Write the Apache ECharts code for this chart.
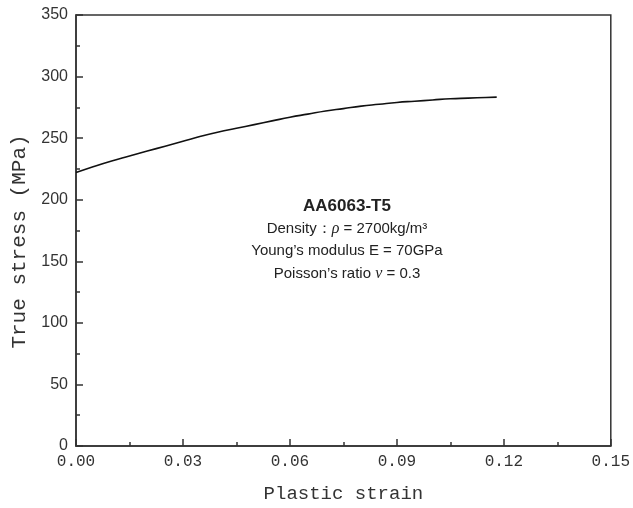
<!DOCTYPE html>
<html><head><meta charset="utf-8">
<script src="https://cdn.jsdelivr.net/npm/echarts@6/dist/echarts.min.js"></script>
<style>html,body{margin:0;padding:0;background:#fff}#c{width:633px;height:508px}</style>
</head><body><div id="c"></div>
<script>
const strain = [0, 0.005, 0.01, 0.015, 0.02, 0.025, 0.03, 0.035, 0.04, 0.045, 0.05, 0.055, 0.06, 0.065, 0.07, 0.075, 0.08, 0.085, 0.09, 0.095, 0.1, 0.105, 0.11, 0.115, 0.118];
const stress = [222, 227, 231.5, 235.5, 239.5, 243.5, 247.5, 251.5, 255, 258, 261, 264, 267, 269.5, 272, 274, 276, 277.5, 279, 280, 281, 282, 282.5, 283, 283.3];
const xTicks = [0, 0.03, 0.06, 0.09, 0.12, 0.15];
const yTicks = [0, 50, 100, 150, 200, 250, 300, 350];
const noteLines = ['AA6063-T5', 'Density\uFF1A{i|\u03C1} = 2700kg/m\u00B3', 'Young\u2019s modulus E = 70GPa', 'Poisson\u2019s ratio {i|\u03BD} = 0.3'];

const chart = echarts.init(document.getElementById('c'), null, {renderer: 'canvas'});
const axisColor = '#333';
const monoFont = '"Liberation Mono", "DejaVu Sans Mono", monospace';
chart.setOption({
  animation: false,
  grid: {left: 76, top: 15, right: 19, bottom: 59, show: true, borderColor: axisColor, borderWidth: 1.5},
  xAxis: {
    type: 'value', min: 0, max: 0.15, interval: 0.03,
    name: 'Plastic strain', nameLocation: 'middle', nameGap: 38,
    nameTextStyle: {fontFamily: monoFont, fontSize: 19, color: '#333'},
    axisLine: {show: true, lineStyle: {color: axisColor, width: 1.5}},
    axisTick: {show: true, inside: true, length: 7, lineStyle: {color: axisColor, width: 1.5}},
    minorTick: {show: true, splitNumber: 2, length: 4, lineStyle: {color: axisColor, width: 1.5}},
    splitLine: {show: false},
    axisLabel: {fontFamily: monoFont, fontSize: 16, color: '#333', margin: 8,
      formatter: v => v.toFixed(2)}
  },
  yAxis: {
    type: 'value', min: 0, max: 350, interval: 50,
    name: 'True stress (MPa)', nameLocation: 'middle', nameGap: 42,
    nameTextStyle: {fontFamily: monoFont, fontSize: 21, color: '#333', padding: [0, 22, 0, 0]},
    axisLine: {show: true, lineStyle: {color: axisColor, width: 1.5}},
    axisTick: {show: true, inside: true, length: 7, lineStyle: {color: axisColor, width: 1.5}},
    minorTick: {show: true, splitNumber: 2, length: 4, lineStyle: {color: axisColor, width: 1.5}},
    splitLine: {show: false},
    axisLabel: {fontFamily: '"Liberation Sans", Arial, sans-serif', fontSize: 16, color: '#333', margin: 8}
  },
  series: [{
    type: 'line', data: strain.map((x, i) => [x, stress[i]]),
    showSymbol: false, smooth: true,
    lineStyle: {color: '#111', width: 1.6}
  }],
  graphic: noteLines.map((t, i) => ({
    type: 'text', x: 347, y: 206 + i * 22.5,
    style: {
      text: t, textAlign: 'center', textVerticalAlign: 'middle',
      fontFamily: '"Liberation Sans", Arial, sans-serif', fontSize: i === 0 ? 17 : 15,
      fontWeight: i === 0 ? 'bold' : 'normal', fill: '#222',
      rich: {i: {fontStyle: 'italic', fontFamily: '"Liberation Serif", serif', fontSize: 16, fill: '#222'}}
    }
  }))
});
</script></body></html>
